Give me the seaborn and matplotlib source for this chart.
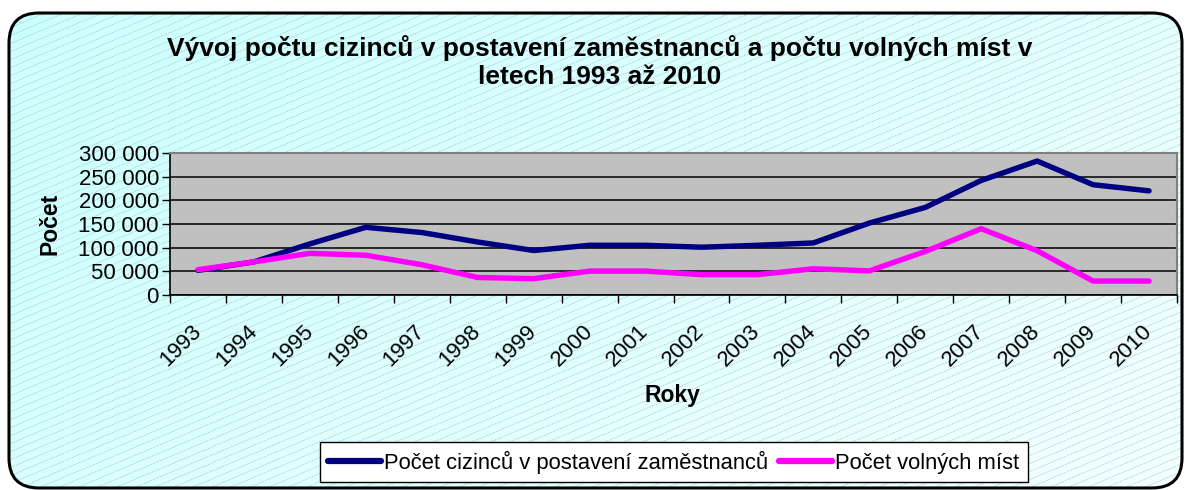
import numpy as np
import pandas as pd
import seaborn as sns
import matplotlib.pyplot as plt
import matplotlib.transforms as mtransforms
from matplotlib.patches import FancyBboxPatch
from matplotlib.ticker import FuncFormatter, FixedLocator

years = [str(y) for y in range(1993, 2011)]
zamestnanci = [52000, 70000, 108000, 143000, 132000, 112000, 94000, 105000, 105000,
               101000, 105000, 110000, 152000, 185000, 242000, 283000, 233000, 220000]
volna_mista = [53500, 70000, 88000, 84000, 64000, 37000, 34500, 50500, 50500,
               43000, 43000, 55500, 51000, 92000, 140000, 93500, 29500, 29500]

series_names = ["Počet cizinců v postavení zaměstnanců", "Počet volných míst"]
colors = ["#000080", "#ff00ff"]

df = pd.DataFrame({
    "Rok": list(range(len(years))) * 2,
    "Počet": zamestnanci + volna_mista,
    "Řada": [series_names[0]] * len(years) + [series_names[1]] * len(years),
})

sns.set_theme(style="white")
plt.rcParams["font.family"] = ["Liberation Sans", "DejaVu Sans"]
plt.rcParams["text.color"] = "black"
plt.rcParams["xtick.color"] = "black"
plt.rcParams["ytick.color"] = "black"
plt.rcParams["axes.labelcolor"] = "black"

W, H = 1186, 490
fig = plt.figure(figsize=(W / 100, H / 100), dpi=100)
fig.patch.set_facecolor("white")

# background: rounded box, cyan gradient, thin dashed diagonal lines
bg = fig.add_axes([0, 0, 1, 1], zorder=0)
bg.set_xlim(0, W)
bg.set_ylim(H, 0)
bg.axis("off")
box = FancyBboxPatch((9, 13), W - 13, H - 15, boxstyle="round,pad=0,rounding_size=30",
                     facecolor="none", edgecolor="black", linewidth=2.2, zorder=3)
bg.add_patch(box)
gx, gy = np.meshgrid(np.linspace(0, 1, 200), np.linspace(0, 1, 100))
t = np.clip(0.65 * gx + 0.35 * gy, 0, 1)
c0 = np.array([0.79, 1.0, 1.0])
c1 = np.array([0.95, 1.0, 1.0])
img = c0 + (c1 - c0) * t[..., None]
im = bg.imshow(img, extent=(0, W, H, 0), aspect="auto", zorder=1)
im.set_clip_path(box)
for b in np.arange(-0.42 * W, H + 10, 8.0):
    ln, = bg.plot([0, W], [b + 0.42 * W, b], color="#a8b8b8", lw=0.5,
                  ls=(0, (2, 1.5)), zorder=2)
    ln.set_clip_path(box)

# plot area
ax = fig.add_axes([170 / W, 1 - 295 / H, 1007 / W, 142 / H], zorder=2)
ax.set_facecolor("#c0c0c0")
sns.lineplot(data=df, x="Rok", y="Počet", hue="Řada", palette=colors, linewidth=3.9,
             ax=ax, legend=True)
for line in ax.lines:
    line.set_solid_capstyle("round")

ax.set_xlim(-0.5, len(years) - 0.5)
ax.set_ylim(0, 300000)
ax.set_yticks(range(0, 300001, 50000))
ax.yaxis.set_major_formatter(FuncFormatter(lambda v, p: f"{int(v):,}".replace(",", " ")))
ax.yaxis.grid(True, color="black", linewidth=1.1)
ax.set_axisbelow(True)

ax.set_xticks(range(len(years)))
ax.set_xticklabels(years, rotation=45, ha="right", va="center", rotation_mode="anchor")
shift = mtransforms.ScaledTranslation(-0.10, 0, fig.dpi_scale_trans)
for lab in ax.get_xticklabels():
    lab.set_transform(lab.get_transform() + shift)
ax.xaxis.set_minor_locator(FixedLocator(np.arange(-0.5, len(years), 1.0)))
ax.tick_params(axis="x", which="major", length=0, pad=24, labelsize=16)
ax.tick_params(axis="x", which="minor", length=6, width=1, color="black", bottom=True)
ax.tick_params(axis="y", length=6, width=1, color="black", left=True, pad=2, labelsize=16)

for side in ["top", "right"]:
    ax.spines[side].set_color("#808080")
    ax.spines[side].set_linewidth(1.5)
for side in ["left", "bottom"]:
    ax.spines[side].set_color("black")
    ax.spines[side].set_linewidth(1.2)

ax.set_xlabel("")
ax.set_ylabel("")
fig.text(50 / W, 1 - 224 / H, "Počet", rotation=90, ha="center", va="center",
         fontsize=16.5, fontweight="bold")
fig.text(672 / W, 1 - 395 / H, "Roky", ha="center", va="center",
         fontsize=16.5, fontweight="bold")
fig.text(600 / W, 1 - 62 / H,
         "Vývoj počtu cizinců v postavení zaměstnanců a počtu volných míst v\nletech 1993 až 2010",
         ha="center", va="center", fontsize=19, fontweight="bold", linespacing=1.25)

leg = ax.legend(loc="center", bbox_to_anchor=(674 / W, 1 - 462 / H),
                bbox_transform=fig.transFigure, ncol=2, frameon=True, fancybox=False,
                fontsize=15.8, handlelength=2.4, handletextpad=0.15, columnspacing=0.5,
                borderpad=0.4, title=None)
leg.get_frame().set_edgecolor("black")
leg.get_frame().set_linewidth(1.0)
leg.get_frame().set_facecolor("white")
leg.get_frame().set_alpha(1)
for h in leg.get_lines():
    h.set_linewidth(4.5)
    h.set_solid_capstyle("round")

fig.savefig("out.png", dpi=100)
